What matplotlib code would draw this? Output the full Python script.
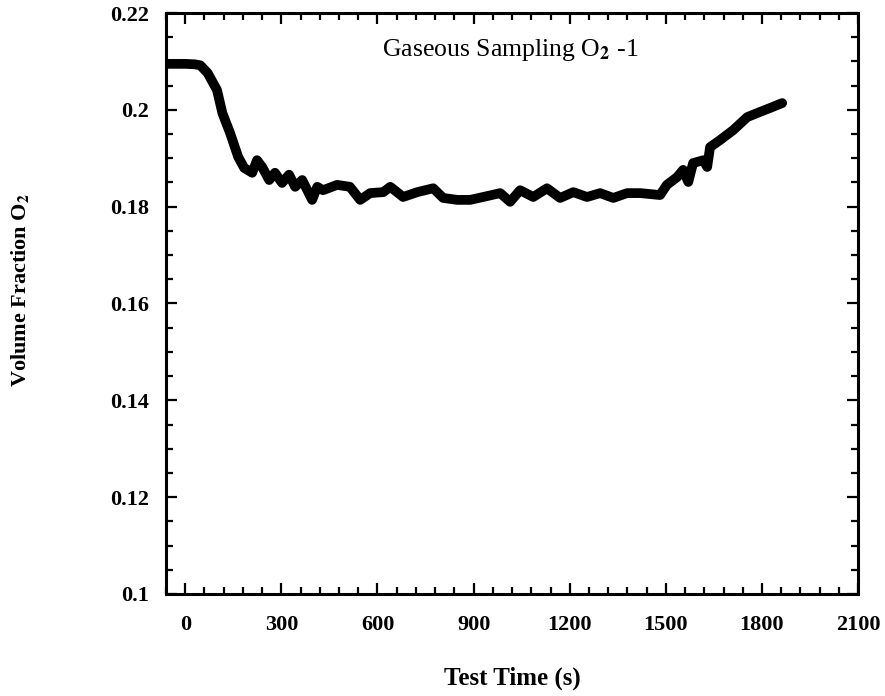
import matplotlib

matplotlib.use("Agg")
import matplotlib.pyplot as plt
from matplotlib.ticker import MultipleLocator

# O2 volume fraction
time_s = [-60, -30, 0, 30, 47, 70, 99, 116, 140, 165, 184, 209, 224, 240,
          262, 280, 302, 324, 343, 365, 396, 412, 430, 474, 514, 546, 577,
          618, 640, 680, 724, 774, 805, 849, 889, 930, 983, 1014, 1045, 1086,
          1129, 1170, 1211, 1254, 1295, 1336, 1379, 1420, 1482, 1503, 1535,
          1554, 1570, 1585, 1617, 1629, 1638, 1670, 1710, 1754, 1795, 1826,
          1863]
o2_frac = [0.2095, 0.2095, 0.2095, 0.2094, 0.2092, 0.2076, 0.2041, 0.1993,
           0.1952, 0.1903, 0.1880, 0.1870, 0.1896, 0.1882, 0.1855, 0.1870,
           0.1849, 0.1866, 0.1841, 0.1855, 0.1814, 0.1841, 0.1834, 0.1845,
           0.1841, 0.1814, 0.1828, 0.1830, 0.1841, 0.1820, 0.1830, 0.1838,
           0.1818, 0.1814, 0.1814, 0.1820, 0.1828, 0.1810, 0.1834, 0.1820,
           0.1838, 0.1818, 0.1830, 0.1820, 0.1828, 0.1818, 0.1828, 0.1828,
           0.1824, 0.1845, 0.1861, 0.1876, 0.1851, 0.1890, 0.1896, 0.1882,
           0.1923, 0.1938, 0.1958, 0.1985, 0.1996, 0.2004, 0.2014]

x_ticks = [0, 300, 600, 900, 1200, 1500, 1800, 2100]
y_ticks = [0.1, 0.12, 0.14, 0.16, 0.18, 0.2, 0.22]
y_tick_labels = ["0.1", "0.12", "0.14", "0.16", "0.18", "0.2", "0.22"]

plt.rcParams["font.family"] = ["Liberation Serif", "DejaVu Serif"]
plt.rcParams["mathtext.fontset"] = "stix"

fig = plt.figure(figsize=(8.85, 6.96), dpi=100)
ax = fig.add_axes([0.1876, 0.1466, 0.782, 0.8347])

ax.plot(time_s, o2_frac, color="black", lw=7, solid_capstyle="round",
        solid_joinstyle="round")

ax.set_xlim(-60, 2100)
ax.set_ylim(0.1, 0.22)
ax.set_xticks(x_ticks)
ax.set_yticks(y_ticks)
ax.set_yticklabels(y_tick_labels)
ax.xaxis.set_minor_locator(MultipleLocator(60))
ax.yaxis.set_minor_locator(MultipleLocator(0.005))

ax.tick_params(which="both", direction="in", top=True, right=True,
               width=1.6, labelsize=16)
ax.tick_params(which="major", length=8)
ax.tick_params(which="minor", length=5)
ax.tick_params(axis="x", pad=15)
ax.tick_params(axis="y", pad=12)
for lbl in ax.get_xticklabels() + ax.get_yticklabels():
    lbl.set_fontweight("bold")
for s in ax.spines.values():
    s.set_linewidth(2.2)

ax.text(0.497, 0.936, r"Gaseous Sampling O$_{\mathbf{2}}$ -1", transform=ax.transAxes,
        ha="center", va="center", fontsize=18.5)
ax.set_xlabel("Test Time (s)", fontsize=18, fontweight="bold")
ax.xaxis.set_label_coords(0.5, -0.125)
ax.set_ylabel(r"Volume Fraction O$_\mathbf{2}$", fontsize=16, fontweight="bold")
ax.yaxis.set_label_coords(-0.195, 0.523)

fig.savefig("out.png", dpi=100)
